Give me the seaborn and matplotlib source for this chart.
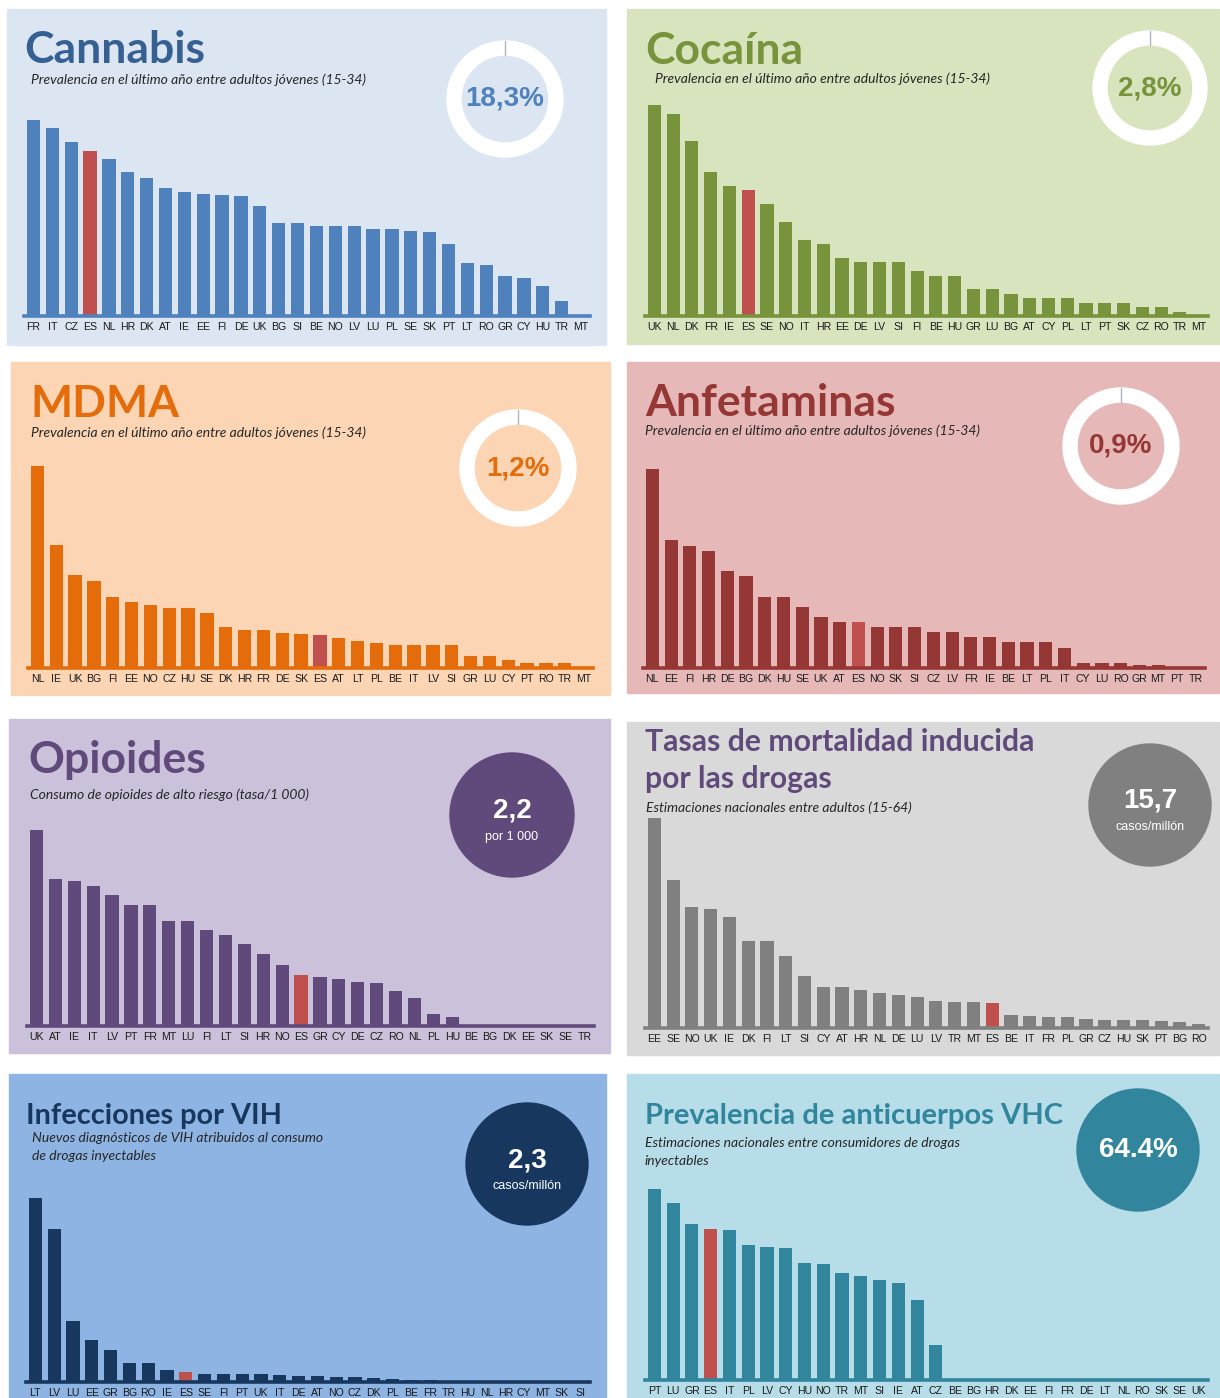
import matplotlib
matplotlib.use('Agg')
import matplotlib.pyplot as plt
from matplotlib import font_manager as fm
from matplotlib.patches import Rectangle, Circle, Wedge
from matplotlib.lines import Line2D
import seaborn as sns

# ---------------- data ----------------
cannabis_countries = ['FR', 'IT', 'CZ', 'ES', 'NL', 'HR', 'DK', 'AT', 'IE', 'EE', 'FI', 'DE', 'UK', 'BG', 'SI',
                      'BE', 'NO', 'LV', 'LU', 'PL', 'SE', 'SK', 'PT', 'LT', 'RO', 'GR', 'CY', 'HU', 'TR', 'MT']
cannabis_values = [21.8, 20.9, 19.3, 18.3, 17.5, 16.0, 15.4, 14.2, 13.8, 13.6, 13.5, 13.3, 12.2, 10.3, 10.3,
                   10.0, 10.0, 10.0, 9.7, 9.7, 9.5, 9.3, 8.0, 5.9, 5.7, 4.5, 4.2, 3.3, 1.7, 0.0]

cocaine_countries = ['UK', 'NL', 'DK', 'FR', 'IE', 'ES', 'SE', 'NO', 'IT', 'HR', 'EE', 'DE', 'LV', 'SI', 'FI',
                     'BE', 'HU', 'GR', 'LU', 'BG', 'AT', 'CY', 'PL', 'LT', 'PT', 'SK', 'CZ', 'RO', 'TR', 'MT']
cocaine_values = [4.7, 4.5, 3.9, 3.2, 2.9, 2.8, 2.5, 2.1, 1.7, 1.6, 1.3, 1.2, 1.2, 1.2, 1.0,
                  0.9, 0.9, 0.6, 0.6, 0.5, 0.4, 0.4, 0.4, 0.3, 0.3, 0.3, 0.2, 0.2, 0.1, 0.0]

mdma_countries = ['NL', 'IE', 'UK', 'BG', 'FI', 'EE', 'NO', 'CZ', 'HU', 'SE', 'DK', 'HR', 'FR', 'DE', 'SK',
                  'ES', 'AT', 'LT', 'PL', 'BE', 'IT', 'LV', 'SI', 'GR', 'LU', 'CY', 'PT', 'RO', 'TR', 'MT']
mdma_values = [7.4, 4.5, 3.4, 3.2, 2.6, 2.4, 2.3, 2.2, 2.2, 2.0, 1.5, 1.4, 1.4, 1.3, 1.25,
               1.2, 1.1, 1.0, 0.9, 0.85, 0.85, 0.85, 0.85, 0.45, 0.45, 0.3, 0.2, 0.2, 0.2, 0.0]

amph_countries = ['NL', 'EE', 'FI', 'HR', 'DE', 'BG', 'DK', 'HU', 'SE', 'UK', 'AT', 'ES', 'NO', 'SK', 'SI',
                  'CZ', 'LV', 'FR', 'IE', 'BE', 'LT', 'PL', 'IT', 'CY', 'LU', 'RO', 'GR', 'MT', 'PT', 'TR']
amph_values = [3.9, 2.5, 2.4, 2.3, 1.9, 1.8, 1.4, 1.4, 1.2, 1.0, 0.9, 0.9, 0.8, 0.8, 0.8,
               0.7, 0.7, 0.6, 0.6, 0.5, 0.5, 0.5, 0.4, 0.1, 0.1, 0.1, 0.05, 0.05, 0.02, 0.02]

opioid_countries = ['UK', 'AT', 'IE', 'IT', 'LV', 'PT', 'FR', 'MT', 'LU', 'FI', 'LT', 'SI', 'HR', 'NO', 'ES',
                    'GR', 'CY', 'DE', 'CZ', 'RO', 'NL', 'PL', 'HU', 'BE', 'BG', 'DK', 'EE', 'SK', 'SE', 'TR']
opioid_values = [8.4, 6.3, 6.2, 6.0, 5.6, 5.2, 5.2, 4.5, 4.5, 4.1, 3.9, 3.5, 3.1, 2.6, 2.2,
                 2.1, 2.0, 1.9, 1.85, 1.5, 1.2, 0.5, 0.4, 0, 0, 0, 0, 0, 0, 0]

deaths_countries = ['EE', 'SE', 'NO', 'UK', 'IE', 'DK', 'FI', 'LT', 'SI', 'CY', 'AT', 'HR', 'NL', 'DE', 'LU',
                    'LV', 'TR', 'MT', 'ES', 'BE', 'IT', 'FR', 'PL', 'GR', 'CZ', 'HU', 'SK', 'PT', 'BG', 'RO']
deaths_values = [132, 93, 76, 75, 70, 55, 55, 45, 33, 26, 26, 24, 22, 21, 19.5,
                 17, 16.3, 16.3, 15.7, 8.2, 7.5, 6.9, 6.9, 5.7, 5.0, 5.0, 5.0, 4.4, 3.8, 2.5]

hiv_countries = ['LT', 'LV', 'LU', 'EE', 'GR', 'BG', 'RO', 'IE', 'ES', 'SE', 'FI', 'PT', 'UK', 'IT', 'DE',
                 'AT', 'NO', 'CZ', 'DK', 'PL', 'BE', 'FR', 'TR', 'HU', 'NL', 'HR', 'CY', 'MT', 'SK', 'SI']
hiv_values = [42, 35, 14, 9.7, 7.4, 4.4, 4.4, 2.8, 2.3, 1.8, 1.8, 1.8, 1.8, 1.6, 1.4,
              1.4, 1.2, 1.2, 0.9, 0.7, 0.5, 0.5, 0.2, 0.1, 0.1, 0.1, 0.1, 0.1, 0, 0]

hcv_countries = ['PT', 'LU', 'GR', 'ES', 'IT', 'PL', 'LV', 'CY', 'HU', 'NO', 'TR', 'MT', 'SI', 'IE', 'AT',
                 'CZ', 'BE', 'BG', 'HR', 'DK', 'EE', 'FI', 'FR', 'DE', 'LT', 'NL', 'RO', 'SK', 'SE', 'UK']
hcv_values = [81.5, 75.5, 66.5, 64.4, 64.0, 57.6, 56.7, 56.3, 49.9, 49.5, 45.6, 44.4, 42.6, 41.4, 34.1,
              14.9, 0, 0, 0, 0, 0, 0, 0, 0, 0, 0, 0, 0, 0, 0]

titles = ['Cannabis', 'Cocaína', 'MDMA', 'Anfetaminas', 'Opioides',
          'Tasas de mortalidad inducida\npor las drogas', 'Infecciones por VIH',
          'Prevalencia de anticuerpos VHC']
subtitles = ['Prevalencia en el último año entre adultos jóvenes (15-34)',
             'Prevalencia en el último año entre adultos jóvenes (15-34)',
             'Prevalencia en el último año entre adultos jóvenes (15-34)',
             'Prevalencia en el último año entre adultos jóvenes (15-34)',
             'Consumo de opioides de alto riesgo (tasa/1 000)',
             'Estimaciones nacionales entre adultos (15-64)',
             'Nuevos diagnósticos de VIH atribuidos al consumo\nde drogas inyectables',
             'Estimaciones nacionales entre consumidores de drogas\ninyectables']
badge_values = ['18,3%', '2,8%', '1,2%', '0,9%', '2,2', '15,7', '2,3', '64.4%']
badge_units = ['', '', '', '', 'por 1 000', 'casos/millón', 'casos/millón', '']

# ---------------- styling / layout (pixels) ----------------
W, H = 1220, 1398
HIGHLIGHT = '#c0504d'

panels = [
    # bg rect, bg colour, bar colour, title colour, bar axes (left, right, base, top), badge (cx, cy, r, kind)
    dict(rect=(7, 9, 606, 345), bg='#dce6f2', bar='#4f81bd', tc='#376092', ax=(24, 590, 316, 120),
         title=(24, 63, 32), sub=(31, 84), badge=(505, 99, 58, 'ring')),
    dict(rect=(627, 9, 1219, 344), bg='#d7e4bd', bar='#77933c', tc='#77933c', ax=(645, 1208, 316, 105),
         title=(645, 64, 32), sub=(655, 83), badge=(1150, 88, 57, 'ring')),
    dict(rect=(11, 362, 610, 695), bg='#fcd5b5', bar='#e46c0a', tc='#e46c0a', ax=(28, 593, 668, 466),
         title=(30, 417, 32), sub=(31, 437), badge=(518, 468, 58, 'ring')),
    dict(rect=(627, 362, 1219, 693), bg='#e6b9b8', bar='#953735', tc='#953735', ax=(643, 1205, 668, 469),
         title=(645, 416, 32), sub=(645, 435), badge=(1121, 446, 58, 'ring')),
    dict(rect=(9, 719, 610, 1053), bg='#ccc1da', bar='#604a7b', tc='#604a7b', ax=(27, 594, 1026, 830),
         title=(28, 773, 32), sub=(30, 799), badge=(512, 815, 62, 'disc')),
    dict(rect=(627, 722, 1219, 1055), bg='#d9d9d9', bar='#808080', tc='#604a7b', ax=(645, 1208, 1028, 818),
         title=(645, 751, 21.7), sub=(646, 812), badge=(1150, 805, 61, 'disc')),
    dict(rect=(9, 1074, 606, 1398), bg='#8eb4e3', bar='#17375e', tc='#17375e', ax=(26, 590, 1382, 1198),
         title=(26, 1124, 20.8), sub=(32, 1142), badge=(527, 1164, 61, 'disc')),
    dict(rect=(627, 1074, 1219, 1398), bg='#b7dee8', bar='#31859c', tc='#31859c', ax=(645, 1208, 1380, 1189),
         title=(645, 1124, 21), sub=(645, 1147), badge=(1138, 1150, 61, 'disc')),
]

series = [(cannabis_countries, cannabis_values), (cocaine_countries, cocaine_values),
          (mdma_countries, mdma_values), (amph_countries, amph_values),
          (opioid_countries, opioid_values), (deaths_countries, deaths_values),
          (hiv_countries, hiv_values), (hcv_countries, hcv_values)]

installed = {f.name for f in fm.fontManager.ttflist}
tick_font = 'Liberation Sans Narrow' if 'Liberation Sans Narrow' in installed else 'Liberation Sans'

sns.set_theme(style='white')
plt.rcParams['font.family'] = ['Lato', 'DejaVu Sans']

fig = plt.figure(figsize=(W / 100, H / 100), dpi=100)
fig.patch.set_facecolor('white')


def fx(x):
    return x / W


def fy(y):
    return 1 - y / H


def inch(x, y):
    return (x / 100, (H - y) / 100)


for i, p in enumerate(panels):
    x0, y0, x1, y1 = p['rect']
    fig.add_artist(Rectangle((fx(x0), fy(y1)), (x1 - x0) / W, (y1 - y0) / H,
                             transform=fig.transFigure, color=p['bg'], zorder=-5))

    left, right, base, top = p['ax']
    ax = fig.add_axes([fx(left), fy(base), (right - left) / W, (base - top) / H])
    ax.patch.set_alpha(0)

    countries, values = series[i]
    pal = {c: (HIGHLIGHT if c == 'ES' else p['bar']) for c in countries}
    sns.barplot(x=countries, y=values, hue=countries, palette=pal, legend=False,
                saturation=1, width=0.7, linewidth=0, ax=ax)
    ax.set_xlim(-0.5, len(countries) - 0.5)
    ax.set_ylim(0, max(values))
    ax.set_yticks([])
    ax.set_xlabel('')
    ax.set_ylabel('')
    for s in ['top', 'left', 'right']:
        ax.spines[s].set_visible(False)
    ax.spines['bottom'].set_color(p['bar'])
    ax.spines['bottom'].set_linewidth(2.6)
    ax.tick_params(axis='x', length=0, pad=4, labelsize=7.6, labelcolor='#1a1a1a')
    for lab in ax.get_xticklabels():
        lab.set_fontfamily(tick_font)

    # title
    tx, ty, tsize = p['title']
    for k, line in enumerate(titles[i].split('\n')):
        fig.text(fx(tx), fy(ty + k * 37), line, fontsize=tsize, fontweight='bold',
                 color=p['tc'], va='baseline', ha='left')

    # subtitle
    sx, sy = p['sub']
    for k, line in enumerate(subtitles[i].split('\n')):
        fig.text(fx(sx), fy(sy + k * 18), line, fontsize=10, style='italic',
                 color='#262626', va='baseline', ha='left')

    # badge
    cx, cy, r, kind = p['badge']
    if kind == 'ring':
        fig.add_artist(Wedge(inch(cx, cy), r / 100, 0, 360, width=14 / 100,
                             transform=fig.dpi_scale_trans, color='white', zorder=2))
        fig.add_artist(Line2D([cx / 100, cx / 100], [(H - cy + r) / 100, (H - cy + r - 14) / 100],
                              transform=fig.dpi_scale_trans, color='#aab4c0', lw=1, zorder=3))
        fig.text(fx(cx), fy(cy), badge_values[i], fontsize=20, fontweight='bold',
                 family='Liberation Sans', color=p['bar'], ha='center', va='center')
    else:
        fig.add_artist(Circle(inch(cx, cy), r / 100, transform=fig.dpi_scale_trans,
                              color=p['bar'], zorder=2))
        if badge_units[i]:
            fig.text(fx(cx), fy(cy - 4), badge_values[i], fontsize=20, fontweight='bold',
                     family='Liberation Sans', color='white', ha='center', va='center')
            fig.text(fx(cx), fy(cy + 22), badge_units[i], fontsize=9,
                     family='Liberation Sans', color='white', ha='center', va='center')
        else:
            fig.text(fx(cx), fy(cy), badge_values[i], fontsize=20, fontweight='bold',
                     family='Liberation Sans', color='white', ha='center', va='center')

fig.savefig('out.png', dpi=100)
